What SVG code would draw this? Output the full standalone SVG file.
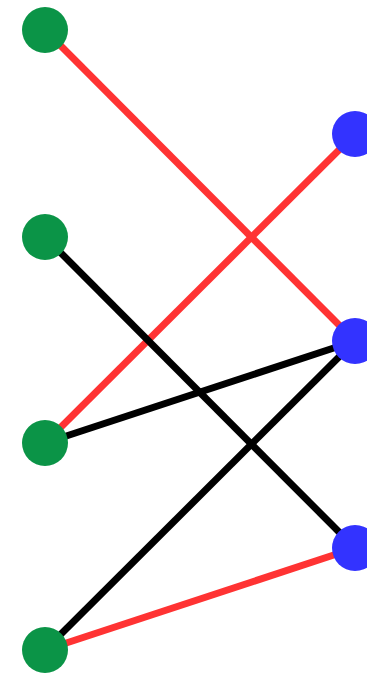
<svg xmlns="http://www.w3.org/2000/svg" width="367" height="674" viewBox="0 0 367 674">
<style>
.g{fill:#0b9447}
.b{fill:#3333ff}
.e{stroke-width:7;fill:none}
.r{stroke:#ff3333}
.k{stroke:#000000}
</style>
<rect width="367" height="674" fill="#ffffff"/>
<g id="edges">
<line class="e r" x1="45" y1="30" x2="355" y2="341"/>
<line class="e r" x1="45" y1="443" x2="355" y2="134"/>
<line class="e k" x1="45" y1="237" x2="355" y2="548"/>
<line class="e k" x1="45" y1="443" x2="355" y2="341"/>
<line class="e k" x1="45" y1="650" x2="355" y2="341"/>
<line class="e r" x1="45" y1="650" x2="355" y2="548"/>
</g>
<g id="g1"><circle class="g" cx="45" cy="30" r="23"/></g>
<g id="g2"><circle class="g" cx="45" cy="237" r="23"/></g>
<g id="g3"><circle class="g" cx="45" cy="443" r="23"/></g>
<g id="g4"><circle class="g" cx="45" cy="650" r="23"/></g>
<g id="b1"><circle class="b" cx="355" cy="134" r="23"/></g>
<g id="b2"><circle class="b" cx="355" cy="341" r="23"/></g>
<g id="b3"><circle class="b" cx="355" cy="548" r="23"/></g>
</svg>
